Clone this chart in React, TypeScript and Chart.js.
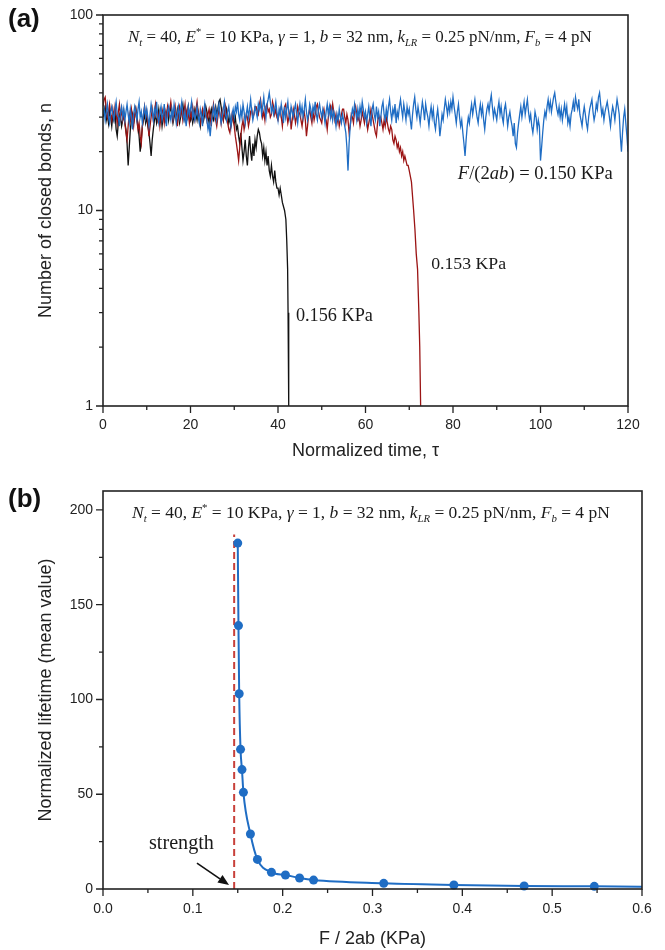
import React, { useEffect, useRef } from 'react';
import { Chart, registerables } from 'chart.js';
Chart.register(...registerables);

// ---------- data ----------
const DT = 0.25; // sampling interval of the traces (normalized time)

// F/(2ab) = 0.150 KPa (blue), t = 0 ... 120
const blueN = [
  31, 33, 29, 32, 35, 30, 28, 32, 34, 31, 29, 33, 36, 31, 30, 27, 32, 34, 30, 33,
  29, 32, 35, 31, 28, 33, 30, 26, 31, 34, 32, 29, 33, 36, 30, 32, 28, 31, 34, 30,
  33, 30, 27, 31, 35, 32, 29, 33, 31, 36, 30, 28, 32, 34, 29, 31, 35, 30, 27, 32,
  34, 31, 29, 33, 30, 35, 32, 28, 31, 34, 30, 33, 36, 31, 29, 32, 27, 30, 34, 31,
  33, 36, 30, 32, 29, 31, 34, 30, 28, 33, 31, 27, 32, 35, 30, 29, 26, 28, 24, 28,
  31, 34, 30, 33, 29, 32, 35, 31, 28, 30, 33, 36, 31, 29, 32, 34, 30, 27, 31, 33,
  30, 34, 32, 36, 31, 29, 33, 30, 35, 32, 28, 31, 34, 30, 33, 37, 32, 29, 31, 34,
  32, 30, 35, 33, 36, 31, 34, 38, 33, 30, 35, 37, 40, 36, 32, 34, 31, 33, 36, 32,
  29, 33, 31, 35, 32, 28, 34, 30, 33, 36, 31, 29, 34, 32, 30, 33, 35, 31, 28, 32,
  35, 31, 34, 30, 33, 37, 32, 29, 31, 35, 33, 30, 34, 32, 36, 31, 29, 33, 35, 32,
  30, 33, 31, 28, 32, 35, 31, 34, 30, 33, 29, 32, 30, 27, 31, 29, 33, 30, 28, 31,
  29, 27, 25, 21, 16, 22, 27, 30, 33, 31, 35, 32, 29, 33, 30, 34, 31, 36, 33, 30,
  32, 28, 31, 34, 30, 27, 33, 35, 31, 29, 34, 30, 32, 27, 30, 34, 36, 31, 29, 33,
  30, 34, 37, 32, 29, 33, 31, 35, 28, 32, 30, 34, 37, 33, 30, 35, 32, 29, 34, 31,
  33, 29, 26, 31, 35, 38, 33, 30, 34, 31, 28, 32, 36, 33, 29, 35, 32, 30, 27, 31,
  34, 30, 33, 28, 26, 30, 33, 29, 24, 27, 31, 29, 33, 37, 34, 31, 35, 32, 36, 33,
  38, 34, 31, 28, 32, 35, 30, 27, 29, 25, 22, 19, 23, 27, 30, 28, 32, 35, 31, 34,
  37, 33, 30, 28, 32, 35, 31, 34, 29, 26, 30, 33, 35, 32, 36, 39, 34, 30, 33, 31,
  29, 33, 36, 31, 34, 30, 28, 33, 35, 31, 27, 30, 32, 29, 27, 24, 28, 22, 21, 25,
  28, 31, 34, 30, 33, 36, 31, 34, 37, 32, 29, 31, 27, 25, 28, 32, 30, 26, 29, 27,
  18, 21, 25, 29, 32, 30, 34, 37, 33, 36, 32, 35, 38, 40, 36, 33, 31, 34, 30, 33,
  29, 32, 35, 31, 34, 28, 30, 27, 31, 33, 36, 32, 38, 35, 33, 37, 31, 29, 27, 31,
  34, 31, 28, 26, 30, 33, 35, 37, 32, 29, 31, 35, 33, 38, 40, 35, 31, 33, 29, 32,
  34, 36, 33, 30, 27, 31, 34, 32, 29, 33, 37, 34, 31, 24, 20, 25, 30, 33, 28, 24,
  20,
];

// 0.153 KPa (red), t = 0 ... 69.75, then the final drop
const redN = [
  34, 37, 38, 33, 30, 32, 35, 31, 29, 33, 30, 34, 31, 28, 32, 35, 30, 33, 29, 31,
  28, 25, 23, 27, 31, 29, 33, 30, 27, 31, 33, 29, 26, 28, 24, 22, 27, 31, 34, 30,
  32, 28, 24, 27, 30, 33, 29, 31, 35, 32, 29, 31, 27, 30, 33, 31, 28, 32, 30, 34,
  31, 33, 36, 32, 29, 31, 34, 30, 27, 32, 34, 31, 33, 29, 32, 35, 30, 33, 31, 28,
  32, 30, 34, 31, 29, 33, 36, 32, 30, 28, 31, 33, 30, 34, 32, 29, 31, 33, 30, 27,
  32, 35, 31, 29, 27, 30, 33, 31, 28, 32, 29, 31, 34, 30, 28, 26, 25, 28, 31, 29,
  27, 24, 22, 20, 18, 21, 24, 27, 29, 26, 28, 31, 30, 27, 29, 32, 33, 30, 31, 34,
  34, 32, 31, 35, 37, 33, 30, 32, 29, 34, 35, 32, 33, 30, 31, 36, 34, 31, 33, 30,
  29, 31, 33, 30, 27, 31, 34, 35, 31, 28, 30, 32, 26, 29, 33, 31, 28, 30, 34, 32,
  31, 29, 27, 30, 32, 29, 24, 27, 31, 33, 30, 28, 32, 29, 31, 34, 35, 32, 30, 29,
  28, 31, 33, 30, 29, 26, 30, 32, 34, 31, 35, 32, 29, 31, 28, 30, 27, 29, 31, 33,
  33, 30, 28, 31, 29, 25, 27, 31, 30, 28, 32, 34, 31, 29, 30, 27, 29, 32, 30, 28,
  31, 29, 26, 28, 30, 33, 31, 29, 27, 25, 24, 28, 31, 29, 30, 28, 26, 29, 27, 30,
  28, 26, 25, 27, 26, 23, 22, 24, 23, 21, 22, 20, 21, 19, 20, 18, 19, 18, 17, 17,
];
const redTailT = [70, 70.5, 71, 71.3, 71.6, 71.9, 72.2, 72.4, 72.6];
const redTailN = [16, 14, 10, 8, 6, 5, 3, 2, 1];

// 0.156 KPa (black), t = 0 ... 41, then the final drop
const blackN = [
  30, 32, 34, 29, 31, 28, 33, 30, 27, 31, 29, 32, 26, 24, 28, 31, 30, 27, 29, 32,
  28, 26, 22, 17, 21, 26, 29, 31, 28, 30, 33, 30, 27, 24, 20, 23, 27, 29, 31, 28,
  30, 27, 25, 22, 19, 23, 26, 29, 31, 28, 30, 33, 29, 31, 27, 30, 32, 29, 31, 33,
  29, 32, 34, 31, 28, 30, 32, 29, 33, 31, 28, 30, 33, 35, 31, 29, 32, 30, 34, 31,
  29, 31, 28, 30, 33, 31, 29, 32, 30, 27, 30, 32, 29, 31, 34, 32, 30, 28, 31, 33,
  30, 29, 32, 34, 31, 33, 36, 37, 34, 31, 29, 32, 30, 33, 31, 28, 30, 27, 29, 31,
  28, 30, 26, 27, 24, 22, 25, 21, 18, 20, 23, 19, 17, 21, 24, 20, 18, 22, 19, 23,
  21, 24, 26, 25, 23, 22, 19, 21, 18, 20, 17, 19, 16, 15, 17, 15, 14, 16, 14, 13,
  13, 12, 13, 12, 11,
];
const blackTailT = [41.5, 41.8, 42.0, 42.2, 42.3, 42.4, 42.5];
const blackTailN = [10, 9, 7, 5, 3, 2, 1];

// panel (b): mean normalized lifetime vs F/2ab
const lifeX = [0.15, 0.1508, 0.1516, 0.1531, 0.1547, 0.1563, 0.1641, 0.1719, 0.1875, 0.2031, 0.2188, 0.2344, 0.3125, 0.3906, 0.4688, 0.5469, 0.625];
const lifeY = [182.5, 139, 103, 73.7, 63, 51, 29, 15.6, 8.8, 7.4, 5.8, 4.7, 3.0, 2.1, 1.6, 1.4, 1.1];
const strengthX = [0.146, 0.146];
const strengthY = [0, 187];

// ticks
const topXTicks = [0, 20, 40, 60, 80, 100, 120];
const topXMinor = [10, 30, 50, 70, 90, 110];
const topYTicks = [1, 10, 100];
const topYMinor = [2, 3, 4, 5, 6, 7, 8, 9, 20, 30, 40, 50, 60, 70, 80, 90];
const botXTicks = [0, 0.1, 0.2, 0.3, 0.4, 0.5, 0.6];
const botXMinor = [0.05, 0.15, 0.25, 0.35, 0.45, 0.55];
const botYTicks = [0, 50, 100, 150, 200];
const botYMinor = [25, 75, 125, 175];

// ---------- styling ----------
const BLUE = '#1f6dc4';
const RED = '#9b1414';
const BLACK = '#111111';
const DASH_RED = '#c8403a';
const AXIS = '#222222';
const SANS = '"Liberation Sans", Arial, Helvetica, sans-serif';
const SERIF = '"Liberation Serif", "Times New Roman", Times, serif';

type Seg = { t: string; it?: boolean; sub?: boolean; sup?: boolean };

const formulaSegs: Seg[] = [
  { t: 'N', it: true }, { t: 't', it: true, sub: true }, { t: ' = 40, ' },
  { t: 'E', it: true }, { t: '*', sup: true }, { t: ' = 10 KPa, ' },
  { t: 'γ', it: true }, { t: ' = 1, ' },
  { t: 'b', it: true }, { t: ' = 32 nm, ' },
  { t: 'k', it: true }, { t: 'LR', it: true, sub: true }, { t: ' = 0.25 pN/nm, ' },
  { t: 'F', it: true }, { t: 'b', it: true, sub: true }, { t: ' = 4 pN' },
];
const label150: Seg[] = [
  { t: 'F', it: true }, { t: '/(' }, { t: '2' }, { t: 'ab', it: true }, { t: ')' }, { t: ' = 0.150 KPa' },
];
const label153: Seg[] = [{ t: '0.153 KPa' }];
const label156: Seg[] = [{ t: '0.156 KPa' }];
const labelStrength: Seg[] = [{ t: 'strength' }];

function segFont(s: Seg, size: number) {
  const sz = s.sub || s.sup ? size * 0.62 : size;
  return `${s.it ? 'italic ' : ''}${sz}px ${SERIF}`;
}
function measureRich(ctx: CanvasRenderingContext2D, segs: Seg[], size: number) {
  let w = 0;
  for (const s of segs) {
    ctx.font = segFont(s, size);
    w += ctx.measureText(s.t).width;
  }
  return w;
}
function drawRich(ctx: CanvasRenderingContext2D, segs: Seg[], x: number, y: number, size: number) {
  let cx = x;
  ctx.textBaseline = 'alphabetic';
  ctx.textAlign = 'left';
  for (const s of segs) {
    ctx.font = segFont(s, size);
    const dy = s.sub ? size * 0.22 : s.sup ? -size * 0.42 : 0;
    ctx.fillText(s.t, cx, y + dy);
    cx += ctx.measureText(s.t).width;
  }
}

const framePlugin = {
  id: 'frameTicks',
  afterDraw(chart: any, _args: any, opts: any) {
    const { ctx, chartArea: a, scales } = chart;
    const xs = scales.x;
    const ys = scales.y;
    ctx.save();
    ctx.strokeStyle = AXIS;
    ctx.lineWidth = 1.3;
    ctx.beginPath();
    for (const v of opts.xMajor) {
      const p = xs.getPixelForValue(v);
      ctx.moveTo(p, a.bottom);
      ctx.lineTo(p, a.bottom + 7);
    }
    for (const v of opts.xMinor) {
      const p = xs.getPixelForValue(v);
      ctx.moveTo(p, a.bottom);
      ctx.lineTo(p, a.bottom + 4);
    }
    for (const v of opts.yMajor) {
      const p = ys.getPixelForValue(v);
      ctx.moveTo(a.left, p);
      ctx.lineTo(a.left - 7, p);
    }
    for (const v of opts.yMinor) {
      const p = ys.getPixelForValue(v);
      ctx.moveTo(a.left, p);
      ctx.lineTo(a.left - 4, p);
    }
    ctx.stroke();
    ctx.lineWidth = 1.6;
    ctx.strokeRect(a.left, a.top, a.right - a.left, a.bottom - a.top);
    if (opts.panel) {
      ctx.fillStyle = '#111';
      ctx.font = `bold 26px ${SANS}`;
      ctx.textBaseline = 'middle';
      ctx.textAlign = 'left';
      ctx.fillText(opts.panel.text, opts.panel.x, opts.panel.y);
    }
    ctx.restore();
  },
};

const richTextPlugin = {
  id: 'richText',
  afterDatasetsDraw(chart: any, _args: any, opts: any) {
    const { ctx, scales } = chart;
    ctx.save();
    ctx.fillStyle = '#1a1a1a';
    for (const item of opts.items || []) {
      let size = item.size || 16;
      if (item.width) {
        const w = measureRich(ctx, item.segs, 20);
        size = (20 * item.width) / w;
      }
      const px = scales.x.getPixelForValue(item.x);
      const py = scales.y.getPixelForValue(item.y);
      drawRich(ctx, item.segs, px, py, size);
    }
    for (const ar of opts.arrows || []) {
      const x1 = scales.x.getPixelForValue(ar.from[0]);
      const y1 = scales.y.getPixelForValue(ar.from[1]);
      const x2 = scales.x.getPixelForValue(ar.to[0]);
      const y2 = scales.y.getPixelForValue(ar.to[1]);
      const ang = Math.atan2(y2 - y1, x2 - x1);
      const hl = 11;
      const hw = 4.5;
      const bx = x2 - hl * Math.cos(ang);
      const by = y2 - hl * Math.sin(ang);
      ctx.strokeStyle = '#111';
      ctx.lineWidth = 1.6;
      ctx.beginPath();
      ctx.moveTo(x1, y1);
      ctx.lineTo(bx, by);
      ctx.stroke();
      ctx.fillStyle = '#111';
      ctx.beginPath();
      ctx.moveTo(x2, y2);
      ctx.lineTo(bx + hw * Math.sin(ang), by - hw * Math.cos(ang));
      ctx.lineTo(bx - hw * Math.sin(ang), by + hw * Math.cos(ang));
      ctx.closePath();
      ctx.fill();
    }
    ctx.restore();
  },
};

const tickFont = { family: SANS, size: 14 };
const titleFont = { family: SANS, size: 18 };

function series(vals: number[], tailT: number[] = [], tailN: number[] = []) {
  const pts = vals.map((n, i) => ({ x: i * DT, y: n }));
  tailT.forEach((t, i) => pts.push({ x: t, y: tailN[i] }));
  return pts;
}

function topConfig(): any {
  return {
    type: 'scatter',
    data: {
      datasets: [
        { data: series(blueN), showLine: true, borderColor: BLUE, borderWidth: 1.3, pointRadius: 0 },
        { data: series(redN, redTailT, redTailN), showLine: true, borderColor: RED, borderWidth: 1.3, pointRadius: 0 },
        { data: series(blackN, blackTailT, blackTailN), showLine: true, borderColor: BLACK, borderWidth: 1.3, pointRadius: 0 },
      ],
    },
    options: {
      animation: false,
      responsive: false,
      events: [],
      layout: { padding: { left: 0, top: 15, right: 37, bottom: 9 } },
      plugins: {
        legend: { display: false },
        tooltip: { enabled: false },
        frameTicks: { xMajor: topXTicks, xMinor: topXMinor, yMajor: topYTicks, yMinor: topYMinor, panel: { text: '(a)', x: 8, y: 20 } },
        richText: {
          items: [
            { segs: formulaSegs, x: 5.7, y: 72.8, width: 464 },
            { segs: label150, x: 81.1, y: 14.5, width: 155 },
            { segs: label153, x: 75.0, y: 5.02, width: 75 },
            { segs: label156, x: 44.1, y: 2.72, width: 77 },
          ],
        },
      },
      scales: {
        x: {
          type: 'linear',
          min: 0,
          max: 120,
          afterBuildTicks: (s: any) => { s.ticks = topXTicks.map((v) => ({ value: v })); },
          afterFit: (s: any) => { s.height = 60; },
          grid: { display: false, tickLength: 7 },
          border: { display: false },
          ticks: { font: tickFont, color: AXIS, padding: 4, maxRotation: 0, autoSkip: false, callback: (v: any) => String(v) },
          title: { display: true, text: 'Normalized time, τ', font: titleFont, color: AXIS, padding: { top: 0, bottom: 4 } },
        },
        y: {
          type: 'logarithmic',
          min: 1,
          max: 100,
          afterBuildTicks: (s: any) => { s.ticks = topYTicks.map((v) => ({ value: v })); },
          afterFit: (s: any) => { s.width = 103; },
          grid: { display: false, tickLength: 7 },
          border: { display: false },
          ticks: { font: tickFont, color: AXIS, padding: 3, autoSkip: false, callback: (v: any) => String(v) },
          title: { display: true, text: 'Number of closed bonds, n', font: titleFont, color: AXIS, padding: { top: 35, bottom: 0 } },
        },
      },
    },
    plugins: [framePlugin, richTextPlugin],
  };
}

function bottomConfig(): any {
  return {
    type: 'scatter',
    data: {
      datasets: [
        {
          data: lifeX.map((x, i) => ({ x, y: lifeY[i] })),
          showLine: true,
          borderColor: BLUE,
          backgroundColor: BLUE,
          borderWidth: 2,
          pointRadius: 4.5,
          pointBorderWidth: 0,
          cubicInterpolationMode: 'monotone',
          clip: { left: 6, top: 6, right: 0, bottom: 6 },
        },
        {
          data: strengthX.map((x, i) => ({ x, y: strengthY[i] })),
          showLine: true,
          borderColor: DASH_RED,
          borderWidth: 2,
          borderDash: [7, 4],
          pointRadius: 0,
        },
      ],
    },
    options: {
      animation: false,
      responsive: false,
      events: [],
      layout: { padding: { left: 0, top: 16, right: 23, bottom: 0 } },
      plugins: {
        legend: { display: false },
        tooltip: { enabled: false },
        frameTicks: { xMajor: botXTicks, xMinor: botXMinor, yMajor: botYTicks, yMinor: botYMinor, panel: { text: '(b)', x: 8, y: 25 } },
        richText: {
          items: [
            { segs: formulaSegs, x: 0.0323, y: 195.8, width: 478 },
            { segs: labelStrength, x: 0.0512, y: 21, width: 65 },
          ],
          arrows: [{ from: [0.1046, 13.7], to: [0.1403, 2.1] }],
        },
      },
      scales: {
        x: {
          type: 'linear',
          min: 0,
          max: 0.6,
          afterBuildTicks: (s: any) => { s.ticks = botXTicks.map((v) => ({ value: v })); },
          afterFit: (s: any) => { s.height = 61; },
          grid: { display: false, tickLength: 7 },
          border: { display: false },
          ticks: { font: tickFont, color: AXIS, padding: 5, maxRotation: 0, autoSkip: false, callback: (v: any) => Number(v).toFixed(1) },
          title: { display: true, text: 'F / 2ab (KPa)', font: titleFont, color: AXIS, padding: { top: 0, bottom: 0 } },
        },
        y: {
          type: 'linear',
          min: 0,
          max: 210,
          afterBuildTicks: (s: any) => { s.ticks = botYTicks.map((v) => ({ value: v })); },
          afterFit: (s: any) => { s.width = 103; },
          grid: { display: false, tickLength: 7 },
          border: { display: false },
          ticks: { font: tickFont, color: AXIS, padding: 3, autoSkip: false, callback: (v: any) => String(v) },
          title: { display: true, text: 'Normalized lifetime (mean value)', font: titleFont, color: AXIS, padding: { top: 35, bottom: 0 } },
        },
      },
    },
    plugins: [framePlugin, richTextPlugin],
  };
}

function ChartCanvas({ make }: { make: () => any }) {
  const ref = useRef<HTMLCanvasElement | null>(null);
  useEffect(() => {
    if (!ref.current) return;
    const chart = new Chart(ref.current, make());
    return () => chart.destroy();
  }, [make]);
  return <canvas ref={ref} width={665} height={475} style={{ display: 'block', width: 665, height: 475 }} />;
}

export default function App() {
  return (
    <div style={{ position: 'absolute', left: 0, top: 0, width: 665, height: 950, background: '#fff' }}>
      <ChartCanvas make={topConfig} />
      <ChartCanvas make={bottomConfig} />
    </div>
  );
}
